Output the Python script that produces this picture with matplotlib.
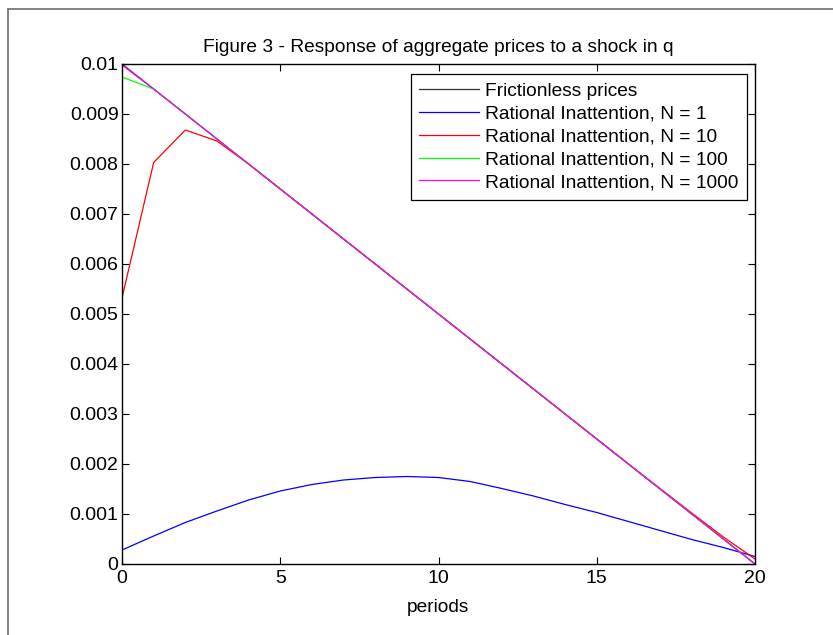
import numpy as np
import matplotlib
matplotlib.use('Agg')
import matplotlib.pyplot as plt
from matplotlib.lines import Line2D
from matplotlib.ticker import FormatStrFormatter

plt.rcParams['font.family'] = ['Liberation Sans', 'DejaVu Sans']

periods = list(range(21))

# values
frictionless = [0.0100, 0.0095, 0.0090, 0.0085, 0.0080, 0.0075, 0.0070, 0.0065, 0.0060, 0.0055, 0.0050,
                0.0045, 0.0040, 0.0035, 0.0030, 0.0025, 0.0020, 0.0015, 0.0010, 0.0005, 0.0000]
ri_n1 = [0.00028, 0.00056, 0.00083, 0.00106, 0.00128, 0.00146, 0.00159, 0.00168, 0.00173, 0.00175, 0.00173,
         0.00165, 0.00151, 0.00136, 0.00119, 0.00103, 0.00085, 0.00067, 0.00049, 0.00033, 0.00015]
ri_n10 = [0.00532, 0.00803, 0.00868, 0.00846, 0.00800, 0.00750, 0.00700, 0.00650, 0.00600, 0.00550, 0.00500,
          0.00450, 0.00400, 0.00350, 0.00300, 0.00250, 0.00200, 0.00151, 0.00102, 0.00054, 0.00010]
ri_n100 = [0.00974, 0.00950, 0.00900, 0.00850, 0.00800, 0.00750, 0.00700, 0.00650, 0.00600, 0.00550, 0.00500,
           0.00450, 0.00400, 0.00350, 0.00300, 0.00250, 0.00200, 0.00150, 0.00100, 0.00050, 0.00000]
ri_n1000 = [0.00998, 0.00950, 0.00900, 0.00850, 0.00800, 0.00750, 0.00700, 0.00650, 0.00600, 0.00550, 0.00500,
            0.00450, 0.00400, 0.00350, 0.00300, 0.00250, 0.00200, 0.00150, 0.00100, 0.00050, 0.00000]

labels = ['Frictionless prices', 'Rational Inattention, N = 1', 'Rational Inattention, N = 10',
          'Rational Inattention, N = 100', 'Rational Inattention, N = 1000']
x_ticks = [0, 5, 10, 15, 20]
y_ticks = np.arange(0, 0.0101, 0.001)

W, H = 833, 635
fig = plt.figure(figsize=(W / 100, H / 100), dpi=100)
ax = fig.add_axes([122 / W, (H - 564) / H, 633 / W, 500 / H])

series = [frictionless, ri_n1, ri_n10, ri_n100, ri_n1000]
colors = ['#333333', '#0000ff', '#ff0000', '#00ff00', '#ff00ff']
for s, c, lab in zip(series, colors, labels):
    ax.plot(periods, s, color=c, lw=0.9, label=lab)

ax.set_xlim(0, 20)
ax.set_ylim(0, 0.01)
ax.set_xticks(x_ticks)
ax.set_yticks(y_ticks)
ax.yaxis.set_major_formatter(FormatStrFormatter('%g'))
ax.tick_params(direction='in', length=5, width=0.8, top=True, right=True, labelsize=14, pad=2.5)
ax.tick_params(axis='x', pad=4)
for sp in ax.spines.values():
    sp.set_linewidth(1.0)

ax.set_title('Figure 3 - Response of aggregate prices to a shock in q', fontsize=13.8, pad=9)
ax.set_xlabel('periods', fontsize=13.8, labelpad=9)

leg = ax.legend(loc='upper right', bbox_to_anchor=(0.987, 0.98), borderaxespad=0, fontsize=13.8,
                fancybox=False, edgecolor='black', framealpha=1, handlelength=3.1,
                handletextpad=0.32, labelspacing=0.28, borderpad=0.45)
leg.get_frame().set_linewidth(0.9)

# figure border (gray, top and left visible)
fig.add_artist(Line2D([8 / W, 8 / W], [0, 1 - 9 / H], transform=fig.transFigure, color='#777777', lw=1.3))
fig.add_artist(Line2D([8 / W, 1], [1 - 9 / H, 1 - 9 / H], transform=fig.transFigure, color='#777777', lw=1.3))

plt.savefig('out.png', dpi=100)
plt.close()
